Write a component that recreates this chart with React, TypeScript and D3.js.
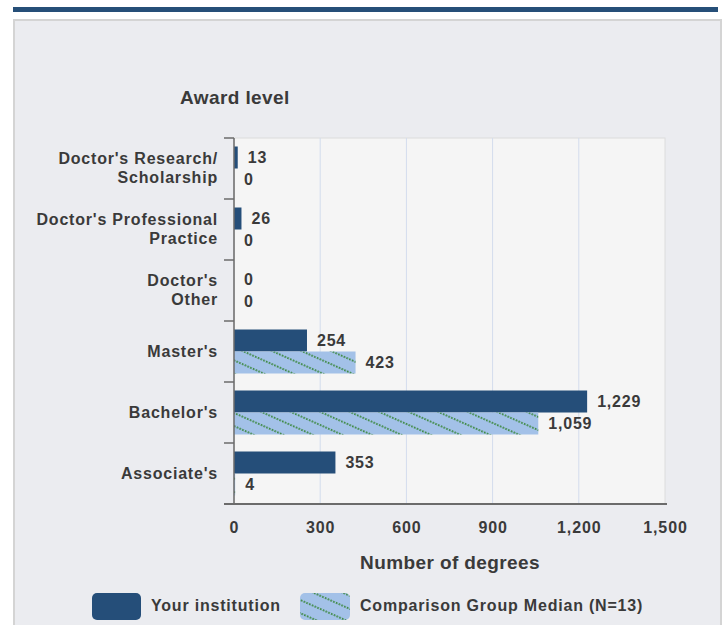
import * as d3 from 'd3';

const categories = [
    ["Doctor's Research/", 'Scholarship'],
    ["Doctor's Professional", 'Practice'],
    ["Doctor's", 'Other'],
    ["Master's"],
    ["Bachelor's"],
    ["Associate's"],
];
const institution = [13, 26, 0, 254, 1229, 353];
const comparison = [0, 0, 0, 423, 1059, 4];
const xTicks = [0, 300, 600, 900, 1200, 1500];

const width = 727;
const height = 625;
const marginLeft = 234;
const plotRight = 665;
const plotTop = 138;
const plotBottom = 504;

const dark = '#254e79';
const light = '#a3c1e8';
const textColor = '#3a3a3a';
const font = "'Liberation Sans', Arial, sans-serif";
const fmt = d3.format(',');

const App = () => {
    const x = d3.scaleLinear().domain([0, 1500]).range([marginLeft, plotRight]);
    const keys = categories.map((c) => c.join(' '));
    const y = d3.scaleBand().domain(keys).range([plotTop, plotBottom]).padding(0);
    const barH = 22;
    const pad = (y.bandwidth() - barH * 2) / 2;

    // bars + value labels
    const bars = keys.map((k, i) => {
        const y0 = (y(k) || 0) + pad;
        const wInst = x(institution[i]) - x(0);
        const wComp = x(comparison[i]) - x(0);
        return (
            <g key={k}>
                {wInst > 0 && <rect x={x(0)} y={y0} width={wInst} height={barH} fill={dark} />}
                {wComp > 0 && (
                    <g>
                        <rect x={x(0)} y={y0 + barH} width={wComp} height={barH} fill={light} />
                        <rect x={x(0)} y={y0 + barH} width={wComp} height={barH} fill="url(#hatch)" />
                    </g>
                )}
                <text x={x(institution[i]) + 10} y={y0 + barH / 2 + 5.5} fontSize={16} letterSpacing={0.8} fontWeight="bold" fill={textColor}>
                    {fmt(institution[i])}
                </text>
                <text x={x(comparison[i]) + 10} y={y0 + barH * 1.5 + 5.5} fontSize={16} letterSpacing={0.8} fontWeight="bold" fill={textColor}>
                    {fmt(comparison[i])}
                </text>
            </g>
        );
    });

    const catLabels = categories.map((lines, i) => {
        const cy = (y(keys[i]) || 0) + y.bandwidth() / 2;
        const lh = 19;
        const start = cy - ((lines.length - 1) * lh) / 2 + 5;
        return (
            <text key={keys[i]} textAnchor="end" fontSize={16} letterSpacing={0.8} fontWeight="bold" fill={textColor}>
                {lines.map((l, j) => (
                    <tspan key={l} x={218} y={start + j * lh}>{l}</tspan>
                ))}
            </text>
        );
    });

    const boundaries = keys.map((k) => y(k) || 0).concat([plotBottom]);

    return (
        <div style={{ position: 'fixed', left: 0, top: 0 }}>
            <svg width={width} height={height} style={{ display: 'block', fontFamily: font }}>
                <defs>
                    <pattern id="hatch" patternUnits="userSpaceOnUse" width={6} height={12} patternTransform="rotate(24)">
                        <line x1={0} y1={6} x2={6} y2={6} stroke="#3f8a45" strokeWidth={2} strokeDasharray="1.6 1.4" />
                    </pattern>
                </defs>
                <rect x={0} y={0} width={width} height={height} fill="#ffffff" />
                <rect x={13} y={7} width={705} height={5} fill="#264f78" />
                <rect x={14} y={20} width={707} height={610} fill="#ebecf0" stroke="#d4d4d4" strokeWidth={2} />

                <text x={180} y={104} fontSize={19} letterSpacing={0.4} fontWeight="bold" fill={textColor}>Award level</text>

                <rect x={x(0)} y={plotTop} width={plotRight - x(0)} height={plotBottom - plotTop} fill="#f5f5f5" stroke="#dcdcdc" strokeWidth={1} />
                {xTicks.slice(1, -1).map((t) => (
                    <line key={t} x1={x(t)} x2={x(t)} y1={plotTop} y2={plotBottom} stroke="#d3dced" strokeWidth={1} />
                ))}

                {bars}

                <line x1={x(0)} x2={x(0)} y1={plotTop} y2={plotBottom} stroke="#6b6b6b" strokeWidth={1.5} />
                {boundaries.map((b) => (
                    <line key={b} x1={x(0) - 10} x2={x(0)} y1={b} y2={b} stroke="#6b6b6b" strokeWidth={1.5} />
                ))}
                <line x1={x(0) - 10} x2={plotRight + 2} y1={plotBottom} y2={plotBottom} stroke="#6b6b6b" strokeWidth={2} />

                {catLabels}

                {xTicks.map((t) => (
                    <text key={t} x={x(t) + 0.5} y={533} textAnchor="middle" fontSize={16} letterSpacing={0.9} fontWeight="bold" fill={textColor}>
                        {fmt(t)}
                    </text>
                ))}
                <text x={450} y={569} textAnchor="middle" fontSize={19} letterSpacing={0.4} fontWeight="bold" fill={textColor}>Number of degrees</text>

                <rect x={92} y={593} width={49} height={27} rx={5} fill={dark} />
                <text x={151} y={611} fontSize={16} letterSpacing={0.8} fontWeight="bold" fill={textColor}>Your institution</text>
                <rect x={300} y={593} width={50} height={27} rx={5} fill={light} />
                <rect x={300} y={593} width={50} height={27} rx={5} fill="url(#hatch)" />
                <text x={360} y={611} fontSize={16} letterSpacing={0.8} fontWeight="bold" fill={textColor}>Comparison Group Median (N=13)</text>
            </svg>
        </div>
    );
};

export default App;
